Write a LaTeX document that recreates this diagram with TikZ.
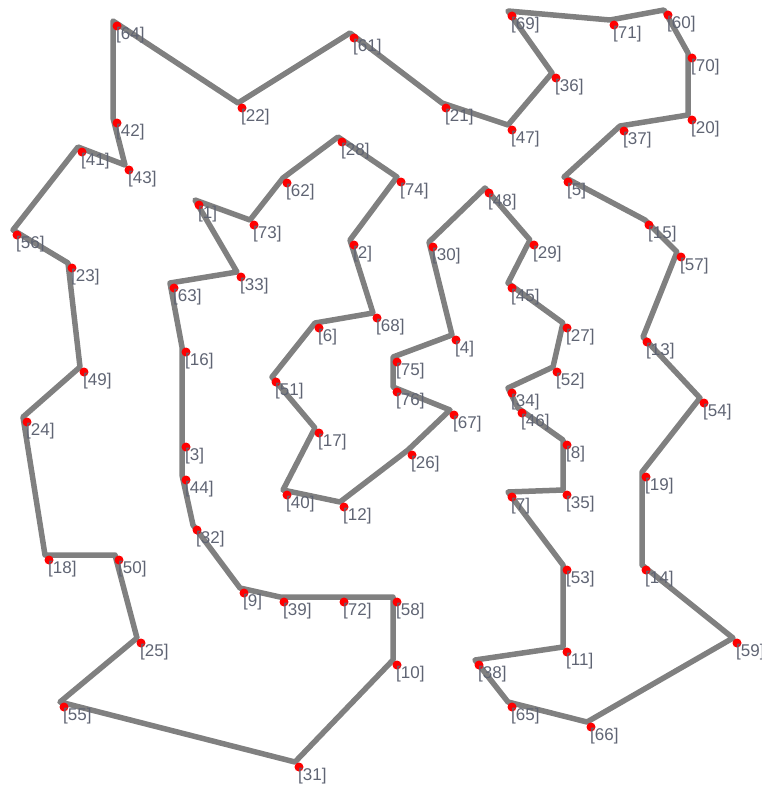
\documentclass[tikz,border=0pt]{standalone}
\usepackage{fontspec}
\setmainfont{Liberation Sans}

\definecolor{tourgray}{RGB}{128,128,128}
\definecolor{citylabel}{RGB}{95,100,115}

\begin{document}
\begin{tikzpicture}[x=1pt,y=-1pt,every node/.style={font=\fontsize{17}{17}\selectfont}]
\useasboundingbox (0,0) rectangle (762,792);
% tour vertices (pixel grid, y downwards)
\foreach \n/\x/\y in {64/113/21, 22/238/103, 61/350/33, 21/442/103, 47/508/125,
  36/552/73, 69/508/11, 71/610/20, 60/664/10, 70/688/53, 20/688/115, 37/620/126,
  5/564/177, 15/645/220, 57/677/252, 13/643/337, 54/700/398, 19/642/472,
  14/642/565, 59/733/638, 66/587/722, 65/508/702, 38/475/660, 11/563/647,
  53/563/565, 7/508/492, 35/563/490, 8/563/440, 46/518/408, 34/508/388,
  52/553/367, 27/563/323, 45/508/283, 29/530/240, 48/485/188, 30/429/242,
  4/452/335, 75/393/357, 76/393/387, 67/450/410, 26/408/450, 12/340/502,
  40/283/490, 17/315/428, 51/272/377, 6/315/323, 68/373/313, 2/350/240,
  74/397/177, 28/338/137, 62/283/178, 73/250/220, 1/195/200, 33/237/272,
  63/170/283, 16/182/347, 3/182/442, 44/182/475, 32/193/525, 9/240/588,
  39/280/597, 72/340/597, 58/393/597, 10/393/660, 31/295/762, 55/60/702,
  25/137/638, 50/115/555, 18/45/555, 24/23/417, 49/80/367, 23/68/263,
  56/13/230, 41/78/147, 43/125/165, 42/113/118}{
  \coordinate (v\n) at (\x,\y);
}
% the tour
\draw[tourgray,line width=5.5pt,line join=round] (v64)--(v22)--(v61)--(v21)--(v47)--(v36)--(v69)--(v71)--(v60)--(v70)--(v20)--(v37)--(v5)--(v15)--(v57)--(v13)--(v54)--(v19)--(v14)--(v59)--(v66)--(v65)--(v38)--(v11)--(v53)--(v7)--(v35)--(v8)--(v46)--(v34)--(v52)--(v27)--(v45)--(v29)--(v48)--(v30)--(v4)--(v75)--(v76)--(v67)--(v26)--(v12)--(v40)--(v17)--(v51)--(v6)--(v68)--(v2)--(v74)--(v28)--(v62)--(v73)--(v1)--(v33)--(v63)--(v16)--(v3)--(v44)--(v32)--(v9)--(v39)--(v72)--(v58)--(v10)--(v31)--(v55)--(v25)--(v50)--(v18)--(v24)--(v49)--(v23)--(v56)--(v41)--(v43)--(v42)--cycle;
% cities and their labels
\foreach \n in {64,22,61,21,47,36,69,71,60,70,20,37,5,15,57,13,54,19,14,59,66,65,38,11,53,7,35,8,46,34,52,27,45,29,48,30,4,75,76,67,26,12,40,17,51,6,68,2,74,28,62,73,1,33,63,16,3,44,32,9,39,72,58,10,31,55,25,50,18,24,49,23,56,41,43,42}{
  \fill[red] ([shift={(4,5)}]v\n) circle (4.5);
  \node[anchor=north west,inner sep=0pt,text=citylabel] (l\n) at ([shift={(3,6)}]v\n) {[\n]};
}
\end{tikzpicture}
\end{document}
